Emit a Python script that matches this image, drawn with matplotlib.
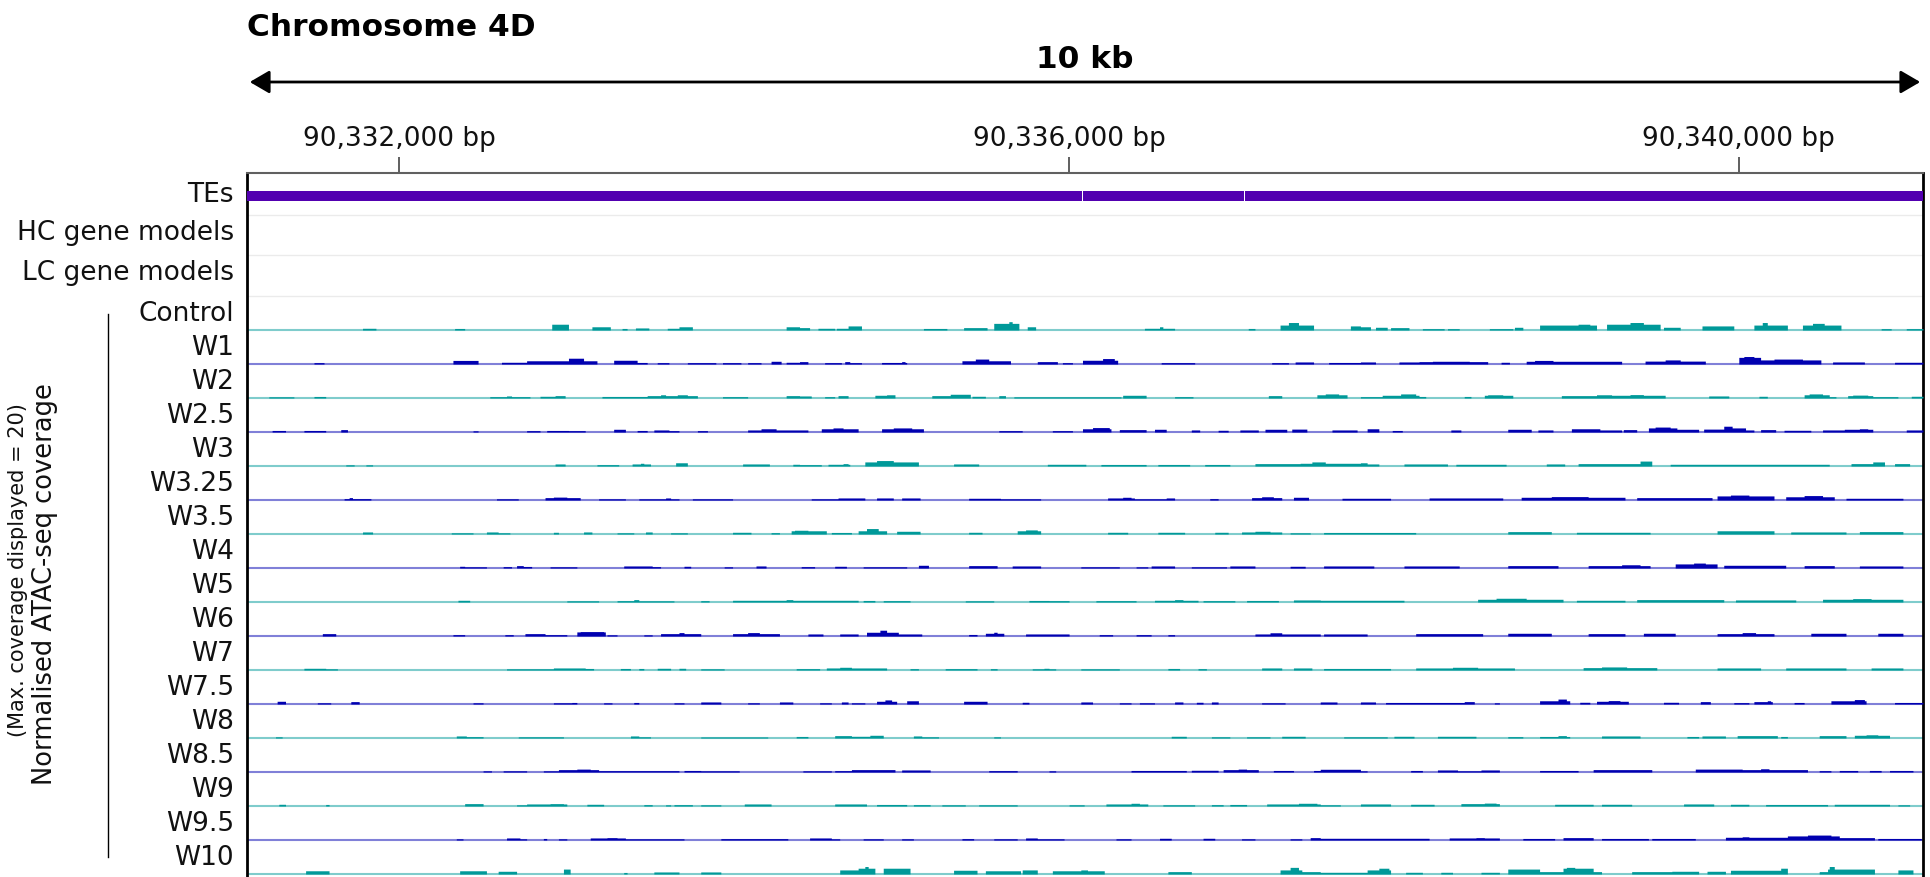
import numpy as np
import matplotlib
matplotlib.use("Agg")
import matplotlib.pyplot as plt
from matplotlib.patches import FancyArrowPatch
from matplotlib.lines import Line2D
from matplotlib.transforms import blended_transform_factory

plt.rcParams['font.family'] = ['DejaVu Sans']

# ---------------------------------------------------------------- data
chrom_title = "Chromosome 4D"
span_label = "10 kb"
window_start = 90_331_090
window_end = 90_341_100
tick_positions = [90_332_000, 90_336_000, 90_340_000]
tick_labels = ["90,332,000 bp", "90,336,000 bp", "90,340,000 bp"]

annotation_tracks = ["TEs", "HC gene models", "LC gene models"]
te_starts = [90_329_500, 90_336_081, 90_337_049]
te_ends = [90_336_075, 90_337_043, 90_342_500]

coverage_max = 20
samples = ["Control", "W1", "W2", "W2.5", "W3", "W3.25", "W3.5", "W4", "W5",
           "W6", "W7", "W7.5", "W8", "W8.5", "W9", "W9.5", "W10"]

# coverage intervals per sample: (start offset bp, end offset bp, coverage)
control = [(690, 770, 1.0), (1240, 1300, 0.9), (1820, 1920, 3.4), (2060, 2170, 1.9),
           (2240, 2270, 0.9), (2320, 2400, 1.2), (2510, 2660, 1.0), (2580, 2660, 1.9),
           (3220, 3300, 1.9), (3300, 3360, 1.4), (3410, 3510, 1.0), (3520, 3590, 1.0),
           (3590, 3670, 2.4), (4040, 4180, 0.9), (4280, 4420, 1.4), (4460, 4610, 3.9),
           (4550, 4570, 4.9), (4660, 4710, 1.9), (5360, 5540, 1.0), (5450, 5470, 1.9),
           (5980, 6020, 0.9), (6170, 6370, 2.9), (6220, 6280, 4.4), (6590, 6650, 2.4),
           (6650, 6710, 1.9), (6740, 6810, 1.6), (6830, 6940, 1.4), (7020, 7150, 0.8),
           (7170, 7240, 0.8), (7420, 7560, 0.8), (7570, 7620, 1.6), (7720, 8060, 2.9),
           (7950, 8020, 3.4), (8120, 8440, 3.4), (8260, 8340, 4.4), (8460, 8560, 1.6),
           (8690, 8880, 2.4), (9000, 9200, 2.9), (9050, 9080, 4.4), (9290, 9520, 2.9),
           (9350, 9420, 3.9), (9760, 9820, 0.8), (9910, 10010, 0.8)]
w1 = [(395, 460, 0.8), (1230, 1380, 2.1), (1520, 1665, 1.0), (1665, 2090, 1.9),
      (1920, 2010, 3.4), (2190, 2330, 2.2), (2330, 2390, 0.9), (2450, 2520, 0.8),
      (2625, 2800, 0.8), (2840, 2945, 0.8), (2990, 3070, 0.8), (3130, 3190, 1.6),
      (3220, 3300, 1.0), (3300, 3345, 1.4), (3450, 3550, 0.8), (3570, 3600, 1.4),
      (3600, 3670, 0.8), (3790, 3940, 0.9), (3910, 3930, 1.4), (4270, 4560, 1.9),
      (4350, 4430, 2.9), (4720, 4840, 1.4), (4870, 4930, 0.8), (4990, 5200, 2.2),
      (5110, 5180, 3.2), (5460, 5660, 0.8), (6120, 6220, 0.8), (6260, 6370, 1.2),
      (6460, 6650, 0.9), (6650, 6740, 1.2), (6880, 7000, 1.2), (7000, 7410, 1.4),
      (7080, 7300, 1.6), (7490, 7540, 1.0), (7640, 8210, 1.6), (7690, 7800, 2.1),
      (8350, 8710, 1.7), (8470, 8560, 2.4), (8910, 9040, 3.9), (8940, 9000, 4.4),
      (9040, 9400, 2.4), (9120, 9290, 2.9), (9470, 9660, 1.2), (9840, 10010, 1.0)]
w2 = [(130, 280, 0.7), (395, 470, 0.9), (1450, 1690, 0.8), (1550, 1580, 1.2),
      (1750, 1900, 1.0), (1840, 1900, 1.4), (2120, 2390, 0.9), (2390, 2690, 1.4),
      (2465, 2500, 1.9), (2570, 2625, 1.9), (2840, 2990, 0.8), (3220, 3300, 1.4),
      (3300, 3370, 1.2), (3450, 3510, 0.8), (3530, 3590, 1.4), (3750, 3870, 1.6),
      (3820, 3870, 1.9), (4090, 4310, 1.4), (4200, 4320, 2.2), (4330, 4410, 1.0),
      (4490, 4530, 1.4), (4580, 5220, 0.7), (5230, 5370, 1.6), (5540, 5650, 0.8),
      (6100, 6180, 1.4), (6390, 6570, 1.9), (6440, 6520, 2.4), (6650, 6780, 0.8),
      (6780, 7000, 1.6), (6890, 6980, 2.4), (7000, 7040, 0.9), (7270, 7310, 0.9),
      (7390, 7560, 1.6), (7410, 7500, 1.9), (7850, 8150, 1.4), (8060, 8150, 1.9),
      (8150, 8470, 1.6), (8260, 8340, 2.0), (8730, 8850, 1.2), (9030, 9080, 1.0),
      (9300, 9450, 1.9), (9330, 9410, 2.4), (9450, 9490, 0.8), (9560, 9710, 1.4),
      (9590, 9680, 1.7), (9710, 9860, 0.8), (9940, 10010, 1.0)]
w2_5 = [(150, 225, 0.9), (340, 470, 0.9), (555, 600, 1.4), (1345, 1380, 0.7),
        (1665, 1750, 0.8), (1790, 1920, 0.9), (1920, 2020, 0.8), (2190, 2260, 1.6),
        (2330, 2390, 0.9), (2430, 2520, 1.2), (2520, 2580, 0.8), (2690, 2750, 0.8),
        (2990, 3300, 1.2), (3070, 3160, 1.9), (3300, 3345, 1.2), (3430, 3645, 1.9),
        (3500, 3560, 2.4), (3790, 4040, 1.9), (3860, 3965, 2.4), (4490, 4630, 0.8),
        (4810, 4925, 0.8), (4990, 5160, 1.9), (5050, 5150, 2.6), (5210, 5370, 1.4),
        (5420, 5490, 1.6), (5640, 5690, 1.2), (5800, 5860, 1.0), (5930, 6035, 1.2),
        (6080, 6205, 1.6), (6240, 6330, 1.7), (6480, 6630, 1.2), (6690, 6760, 1.9),
        (6840, 6900, 0.9), (7190, 7250, 1.2), (7530, 7670, 1.6), (7710, 7800, 1.2),
        (7910, 8080, 1.9), (8080, 8210, 1.2), (8220, 8300, 1.4), (8365, 8540, 2.4),
        (8410, 8495, 2.9), (8540, 8670, 1.6), (8700, 8820, 1.7), (8820, 8950, 2.4),
        (8820, 8865, 3.4), (8950, 8995, 1.2), (9040, 9125, 1.4), (9180, 9340, 1.0),
        (9410, 9540, 1.2), (9540, 9710, 1.6), (9625, 9680, 1.9), (9910, 10010, 1.2)]
w3 = [(590, 640, 0.7), (705, 750, 0.7), (1840, 1900, 1.2), (2090, 2220, 0.8),
      (2295, 2410, 1.2), (2350, 2370, 1.6), (2560, 2625, 1.9), (2955, 3115, 1.2),
      (3255, 3300, 1.0), (3300, 3430, 0.8), (3465, 3600, 1.0), (3560, 3590, 1.4),
      (3690, 4010, 2.4), (3760, 3860, 3.2), (4220, 4370, 1.2), (4775, 5010, 1.0),
      (5095, 5370, 0.9), (5440, 5630, 0.9), (5715, 5865, 0.9), (6015, 6290, 1.4),
      (6290, 6650, 1.6), (6355, 6440, 2.4), (6650, 6760, 1.2), (6650, 6690, 1.9),
      (6910, 7170, 1.2), (7215, 7520, 1.0), (7760, 7865, 1.2), (7950, 8390, 1.4),
      (8320, 8390, 2.9), (8495, 9450, 1.0), (9580, 9710, 1.4), (9710, 9780, 2.4),
      (9840, 9930, 1.4)]
w3_25 = [(580, 740, 0.8), (605, 630, 1.4), (1485, 1620, 0.7), (1780, 1990, 1.4),
         (1830, 1910, 1.7), (2100, 2260, 0.7), (2340, 2580, 0.7), (2500, 2525, 1.2),
         (2660, 2710, 0.7), (2710, 2895, 0.7), (3370, 3530, 0.7), (3530, 3690, 1.2),
         (3760, 3860, 1.2), (3910, 4020, 1.2), (4310, 4500, 1.0), (4500, 4740, 0.7),
         (5140, 5300, 1.2), (5230, 5280, 1.6), (5300, 5540, 0.7), (5490, 5540, 1.2),
         (5750, 5800, 0.8), (6000, 6180, 1.4), (6060, 6130, 1.9), (6250, 6340, 1.6),
         (6540, 6830, 1.0), (7060, 7500, 1.2), (7610, 8230, 1.6), (7790, 8010, 2.0),
         (8300, 8750, 1.4), (8780, 9120, 2.4), (8860, 8970, 2.9), (9190, 9480, 1.9),
         (9300, 9410, 2.6), (9550, 9890, 1.0)]
w3_5 = [(685, 750, 1.2), (1220, 1350, 0.7), (1430, 1500, 1.2), (1500, 1565, 0.7),
        (1830, 1860, 1.0), (2005, 2060, 1.2), (2205, 2310, 0.7), (2380, 2420, 1.2),
        (2525, 2630, 0.7), (2895, 3010, 1.0), (3130, 3180, 0.8), (3250, 3460, 1.9),
        (3270, 3345, 2.2), (3485, 3605, 0.9), (3650, 3815, 1.9), (3700, 3770, 3.2),
        (3875, 4020, 1.6), (4310, 4385, 1.0), (4595, 4740, 1.9), (4645, 4715, 2.4),
        (5140, 5260, 1.0), (5435, 5600, 1.0), (5775, 5860, 1.0), (5940, 6180, 1.2),
        (6015, 6105, 1.6), (6225, 6345, 0.7), (6430, 6980, 0.9), (7530, 7790, 1.4),
        (7940, 8380, 1.0), (8780, 9120, 1.9), (9220, 9550, 1.2), (9630, 9890, 1.4)]
w4 = [(1270, 1300, 1.0), (1300, 1430, 0.7), (1525, 1580, 0.8), (1605, 1645, 1.4),
      (1645, 1700, 0.9), (1805, 1965, 0.7), (2245, 2420, 1.2), (2420, 2470, 0.8),
      (2605, 2645, 1.0), (2850, 2895, 0.7), (3035, 3095, 1.2), (3310, 3390, 0.8),
      (3510, 3580, 1.0), (3675, 3935, 0.7), (4005, 4065, 1.6), (4310, 4480, 1.4),
      (4570, 4740, 1.2), (4975, 5210, 0.7), (5305, 5375, 0.7), (5400, 5540, 1.2),
      (5635, 5845, 0.7), (5870, 6015, 1.2), (6225, 6320, 1.0), (6430, 6730, 1.2),
      (6910, 7240, 1.2), (7530, 7830, 1.4), (8010, 8380, 1.4), (8210, 8320, 1.9),
      (8530, 8780, 2.4), (8640, 8710, 2.9), (8820, 9190, 1.6), (9300, 9480, 1.4),
      (9630, 9890, 1.2)]
w5 = [(1260, 1325, 1.0), (1910, 2100, 0.7), (2205, 2310, 0.8), (2310, 2340, 1.4),
      (2340, 2550, 0.7), (2705, 2755, 0.8), (2895, 3650, 1.0), (3215, 3260, 1.4),
      (3675, 3745, 0.9), (3795, 3960, 0.8), (4290, 4455, 0.7), (4665, 4785, 0.9),
      (4785, 4905, 0.8), (5070, 5305, 0.8), (5420, 5680, 1.0), (5540, 5590, 1.4),
      (5705, 5895, 0.8), (5965, 6155, 0.9), (6250, 6410, 1.2), (6410, 6910, 1.0),
      (7350, 7860, 1.6), (7460, 7640, 2.2), (7940, 8230, 1.0), (8300, 8820, 1.4),
      (8890, 9250, 1.2), (9410, 9890, 1.6), (9590, 9700, 2.0)]
w6 = [(445, 525, 1.4), (1230, 1300, 0.8), (1540, 1590, 0.8), (1660, 1780, 1.4),
      (1780, 1910, 0.8), (1965, 2140, 2.4), (1990, 2125, 2.6), (2150, 2205, 0.7),
      (2365, 2420, 0.7), (2470, 2705, 1.4), (2580, 2605, 2.0), (2895, 3180, 1.4),
      (2990, 3060, 2.0), (3345, 3440, 1.2), (3535, 3650, 1.2), (3700, 3885, 2.2),
      (3780, 3815, 3.4), (3885, 4030, 1.2), (4310, 4360, 0.9), (4405, 4515, 1.6),
      (4455, 4480, 2.2), (4645, 4905, 1.2), (5090, 5165, 0.8), (5305, 5400, 0.8),
      (5495, 5540, 0.8), (6015, 6410, 1.2), (6105, 6180, 1.9), (6430, 6690, 1.2),
      (6980, 7380, 1.4), (7530, 7790, 1.6), (8010, 8230, 1.4), (8340, 8530, 1.6),
      (8780, 9120, 1.4), (8930, 9010, 2.0), (9340, 9550, 1.6), (9740, 9890, 1.6)]
w7 = [(340, 470, 1.0), (470, 540, 0.7), (1550, 1830, 0.7), (1830, 2020, 1.2),
      (2020, 2070, 0.9), (2230, 2285, 0.9), (2340, 2365, 0.9), (2445, 2525, 1.0),
      (2580, 2620, 1.0), (2705, 2850, 0.7), (3275, 3415, 0.8), (3460, 3815, 1.2),
      (3535, 3605, 1.6), (3960, 4005, 0.8), (4170, 4360, 0.8), (4440, 4480, 0.8),
      (4690, 4830, 0.7), (4760, 4785, 1.0), (4975, 5210, 0.7), (5495, 5565, 0.9),
      (5680, 5730, 0.8), (6060, 6180, 1.2), (6250, 6355, 1.2), (6430, 6830, 0.9),
      (6980, 7570, 1.2), (7200, 7350, 1.6), (7980, 8420, 1.4), (8090, 8240, 1.8),
      (8780, 9040, 1.2), (9190, 9550, 1.2), (9700, 9890, 1.2)]
w7_5 = [(180, 230, 1.6), (420, 500, 0.7), (620, 670, 1.4), (1350, 1405, 0.7),
        (1830, 1965, 0.7), (1940, 1965, 0.9), (2125, 2180, 0.7), (2310, 2340, 0.9),
        (2550, 2605, 0.7), (2705, 2825, 1.2), (2990, 3060, 0.7), (3180, 3260, 1.2),
        (3415, 3485, 0.7), (3545, 3590, 1.2), (3605, 3685, 0.7), (3755, 3875, 1.6),
        (3805, 3850, 2.4), (3935, 4005, 1.9), (4275, 4420, 1.6), (4630, 4665, 1.0),
        (4975, 5045, 1.2), (5210, 5280, 0.7), (5330, 5420, 0.7), (5540, 5590, 1.2),
        (5670, 5705, 1.0), (5755, 5800, 1.2), (6060, 6200, 0.7), (6410, 6505, 1.2),
        (6645, 6735, 1.2), (6795, 7320, 0.9), (7270, 7330, 1.4), (7445, 7480, 0.7),
        (7715, 7900, 1.9), (7830, 7875, 2.9), (7955, 8015, 1.0), (8060, 8250, 1.6),
        (8130, 8200, 2.0), (8460, 8550, 1.0), (8680, 8735, 1.4), (8875, 8970, 0.8),
        (8995, 9110, 1.4), (9075, 9100, 1.9), (9235, 9295, 0.9), (9460, 9670, 1.9),
        (9600, 9655, 2.6), (9840, 10010, 0.9)]
w8 = [(165, 205, 0.7), (1245, 1310, 1.2), (1310, 1405, 0.8), (1620, 1885, 0.7),
      (2285, 2340, 1.2), (2340, 2405, 0.7), (2705, 3110, 0.6), (3275, 3345, 0.9),
      (3510, 3795, 1.0), (3510, 3605, 1.4), (3720, 3795, 1.6), (3980, 4030, 1.2),
      (4030, 4125, 0.7), (4455, 4500, 0.7), (5515, 5610, 1.0), (5755, 5870, 0.7),
      (5965, 6105, 0.7), (6180, 6320, 1.0), (6550, 6805, 0.7), (6850, 6970, 1.0),
      (7110, 7340, 1.0), (7525, 7620, 0.8), (7715, 7900, 0.9), (7830, 7875, 1.4),
      (8085, 8320, 1.2), (8595, 8665, 0.9), (8690, 8830, 1.2), (8900, 9135, 1.4),
      (9155, 9200, 0.9), (9390, 9550, 1.4), (9600, 9805, 1.6), (9670, 9740, 1.9)]
w8_5 = [(1405, 1460, 0.7), (1525, 1670, 0.7), (1765, 1860, 0.7), (1860, 2100, 1.4),
        (1965, 2045, 1.7), (2100, 2580, 0.8), (2605, 2705, 0.9), (2705, 2940, 0.7),
        (3320, 3485, 0.7), (3510, 3605, 0.8), (3605, 3865, 1.4), (3910, 4075, 1.2),
        (4430, 4595, 0.8), (4785, 4830, 0.7), (5280, 5610, 0.9), (5635, 5800, 1.0),
        (5825, 6035, 1.4), (5920, 5965, 1.7), (6130, 6250, 0.9), (6365, 6410, 0.9),
        (6410, 6645, 1.6), (6645, 6690, 0.7), (6945, 7015, 0.9), (7110, 7225, 1.2),
        (7225, 7365, 0.7), (7365, 7480, 1.2), (7715, 7945, 0.9), (8040, 8390, 1.4),
        (8645, 8925, 1.7), (8925, 9320, 1.4), (9040, 9085, 1.9), (9390, 9460, 0.8),
        (9505, 9620, 0.9), (9690, 9760, 0.9), (9805, 9945, 0.9)]
w9 = [(190, 230, 1.0), (470, 485, 0.9), (1300, 1405, 1.4), (1605, 1670, 0.7),
      (1670, 1910, 1.2), (1805, 1885, 1.4), (2030, 2125, 1.0), (2365, 2420, 0.8),
      (2500, 2525, 0.7), (2550, 2660, 0.8), (2705, 2825, 0.7), (2965, 3130, 1.2),
      (3510, 3700, 1.2), (3755, 3935, 0.9), (3980, 4075, 0.8), (4145, 4290, 0.7),
      (4370, 4595, 0.7), (4905, 5000, 0.7), (5125, 5375, 1.2), (5280, 5330, 1.6),
      (5470, 5660, 0.7), (5755, 5825, 0.8), (5870, 5965, 0.9), (6085, 6410, 1.2),
      (6275, 6390, 1.6), (6410, 6525, 0.7), (6645, 6830, 1.2), (6945, 7085, 1.0),
      (7250, 7480, 1.4), (7385, 7455, 1.7), (7805, 8040, 1.0), (8085, 8270, 1.0),
      (8575, 8760, 1.2), (8855, 8970, 1.0), (9065, 9435, 0.9), (9480, 9805, 1.0),
      (9855, 9925, 0.7)]
w9_5 = [(1245, 1285, 0.7), (1550, 1630, 1.2), (1630, 1670, 0.7), (1765, 1790, 0.9),
        (1860, 1910, 0.7), (2045, 2260, 1.2), (2150, 2205, 1.4), (2260, 2605, 0.7),
        (2825, 3225, 0.8), (3355, 3485, 1.2), (3485, 3535, 0.7), (3675, 3795, 0.7),
        (3910, 3980, 0.7), (4265, 4335, 0.8), (4455, 4595, 0.7), (4645, 4715, 1.2),
        (4715, 4880, 0.7), (5185, 5280, 0.7), (5445, 5515, 1.0), (5705, 5775, 1.0),
        (5940, 6015, 0.7), (6225, 6295, 0.7), (6345, 6410, 1.4), (6410, 7060, 1.0),
        (7180, 7480, 1.2), (7340, 7385, 1.4), (7620, 7805, 0.9), (7855, 8040, 1.4),
        (8085, 8365, 0.9), (8390, 8645, 0.9), (8830, 9200, 1.6), (8925, 8970, 1.9),
        (9200, 9505, 2.4), (9320, 9460, 2.9), (9505, 9715, 1.4), (9740, 9995, 0.9)]
w10 = [(350, 485, 1.9), (1270, 1430, 1.9), (1500, 1605, 1.6), (1885, 1925, 2.9),
       (2245, 2270, 0.9), (2430, 2580, 1.2), (2705, 2825, 1.2), (3535, 3650, 2.4),
       (3650, 3745, 3.4), (3685, 3710, 4.4), (3795, 3960, 3.4), (4220, 4360, 2.2),
       (4405, 4620, 1.9), (4630, 4715, 2.4), (4810, 5115, 1.9), (4975, 5020, 2.4),
       (5495, 5635, 1.4), (6165, 6295, 2.4), (6225, 6275, 3.9), (6295, 6410, 1.4),
       (6410, 6690, 1.0), (6690, 6830, 2.4), (6760, 6815, 3.4), (6920, 7015, 1.0),
       (7130, 7200, 1.0), (7365, 7480, 1.0), (7525, 7715, 2.9), (7715, 7855, 1.4),
       (7855, 8040, 3.4), (7875, 7925, 3.9), (8040, 8085, 1.4), (8270, 8505, 1.4),
       (8505, 8665, 1.6), (8715, 8830, 1.6), (8855, 8925, 2.2), (8925, 9200, 2.2),
       (9155, 9200, 3.4), (9390, 9435, 1.4), (9435, 9715, 2.9), (9445, 9480, 4.4),
       (9855, 9945, 2.4)]

coverage = [control, w1, w2, w2_5, w3, w3_25, w3_5, w4, w5, w6, w7, w7_5,
            w8, w8_5, w9, w9_5, w10]

# ---------------------------------------------------------------- styling
teal, teal_light = "#009999", "#7fcccc"
blue, blue_light = "#0000b0", "#8080d8"
te_colour = "#5200b0"

W, H = 1930, 878
fig = plt.figure(figsize=(W / 100, H / 100), dpi=100)
ax_left, ax_right, ax_top = 247, 1923, 174
ax = fig.add_axes([ax_left / W, 0, (ax_right - ax_left) / W, (H - ax_top) / H])

# vertical layout of the stacked tracks (in pixel-like units, top = 0)
annot_heights = [42, 40, 41]
cov_h = 34
annot_tops = np.concatenate([[0], np.cumsum(annot_heights)])
cov_top = annot_tops[-1]
ax.set_xlim(window_start, window_end)
ax.set_ylim(H - ax_top, 0)

ax.spines["bottom"].set_visible(False)
ax.spines["top"].set_color("#606060")
ax.spines["top"].set_linewidth(1.5)
ax.spines["left"].set_color("black")
ax.spines["left"].set_linewidth(2)
ax.spines["right"].set_color("black")
ax.spines["right"].set_linewidth(2)

ax.xaxis.tick_top()
ax.set_xticks(tick_positions)
ax.set_xticklabels(tick_labels, fontsize=19, color="#111111")
ax.tick_params(axis="x", direction="out", length=11.5, width=1.2, color="#444444", pad=4)
ax.set_yticks([])

label_tf = blended_transform_factory(fig.transFigure, ax.transData)
label_x = 234 / W

# annotation tracks
label_shift = [0, -3, -3]
for name, top, h, dy in zip(annotation_tracks, annot_tops[:-1], annot_heights, label_shift):
    ax.text(label_x, top + h / 2 + dy, name, transform=label_tf, ha="right",
            va="center", fontsize=19, color="#111111")
for y in annot_tops[1:]:
    ax.axhline(y, color="#ebebeb", lw=1, zorder=1)

te_y = annot_tops[0] + annot_heights[0] / 2 + 2
ax.broken_barh([(s, e - s) for s, e in zip(te_starts, te_ends)], (te_y - 5, 10),
               facecolors=te_colour, edgecolor="none", zorder=3)

# coverage tracks
step = 10
grid = np.arange(0, window_end - window_start + step, step)
scale = cov_h / coverage_max
for k, (name, segs) in enumerate(zip(samples, coverage)):
    fill, light = (teal, teal_light) if k % 2 == 0 else (blue, blue_light)
    top = cov_top + k * cov_h
    base = top + cov_h
    cov = np.zeros(len(grid))
    for s, e, h in segs:
        m = (grid >= s) & (grid < e)
        cov[m] = np.maximum(cov[m], h)
    ax.hlines(base - 0.5, window_start, window_end, color=light, lw=1.5, zorder=2)
    ax.fill_between(window_start + grid, base, base - cov * scale, step="post",
                    color=fill, lw=0, zorder=3)
    ax.text(label_x, top + cov_h / 2, name, transform=label_tf, ha="right",
            va="center", fontsize=19, color="#111111")

# titles, scale arrow and side labels
fig.text(ax_left / W, 1 - 28 / H, chrom_title, fontsize=22.5, fontweight="bold",
         ha="left", va="center")
fig.text((ax_left + ax_right) / 2 / W, 1 - 60 / H, span_label, fontsize=22.5,
         fontweight="bold", ha="center", va="center")
arrow = FancyArrowPatch((ax_left / W, 1 - 83 / H), (ax_right / W, 1 - 83 / H),
                        transform=fig.transFigure,
                        arrowstyle="<|-|>,head_length=0.6,head_width=0.35",
                        mutation_scale=20, lw=2, color="black")
fig.add_artist(arrow)

fig.text(45 / W, 1 - 584 / H, "Normalised ATAC-seq coverage", rotation=90,
         fontsize=18.5, ha="center", va="center", color="#111111")
fig.text(18 / W, 1 - 570 / H, "(Max. coverage displayed = 20)", rotation=90,
         fontsize=15, ha="center", va="center", color="#111111")
fig.add_artist(Line2D([108 / W, 108 / W], [1 - 315 / H, 1 - 858 / H],
                      transform=fig.transFigure, color="black", lw=1))

fig.savefig("out.png", dpi=100)
